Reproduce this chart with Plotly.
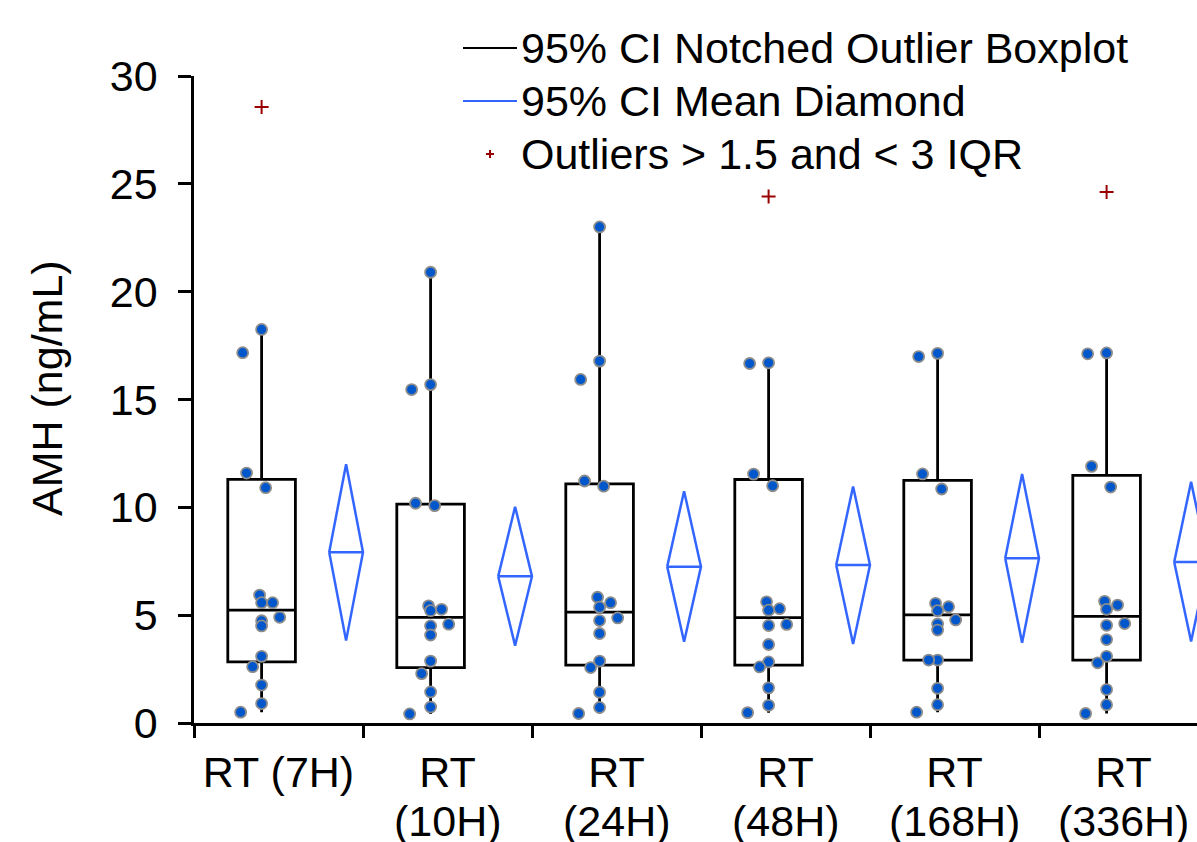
import plotly.graph_objects as go

# ---------------- data ----------------
categories = ["RT (7H)", "RT (10H)", "RT (24H)", "RT (48H)", "RT (168H)", "RT (336H)"]
y_title = "AMH (ng/mL)"
y_ticks = [0, 5, 10, 15, 20, 25, 30]

# individual values per subject (None = not shown as a dot)
g_7h   = [None, 18.25, 17.17, 11.59, 10.91, 5.93, 5.58, 5.58, 4.90, 4.74, 4.50, 3.09, 2.61, 1.76, 0.90, 0.50]
g_10h  = [20.90, 15.69, 15.46, 10.19, 10.08, 5.43, 5.27, 5.21, 4.58, 4.50, 4.08, 2.87, 2.29, 1.44, 0.74, 0.42]
g_24h  = [23.00, 16.78, 15.93, 11.22, 10.98, 5.83, 5.58, 5.37, 4.87, 4.75, 4.15, 2.87, 2.57, 1.43, 0.72, 0.44]
g_48h  = [None, 16.70, 16.67, 11.54, 11.00, 5.62, 5.30, 5.23, 4.57, 4.52, 3.64, 2.83, 2.60, 1.63, 0.82, 0.48]
g_168h = [None, 17.14, 16.99, 11.55, 10.85, 5.55, 5.39, 5.21, 4.78, 4.59, 4.31, 2.92, 2.92, 1.61, 0.85, 0.50]
g_336h = [None, 17.16, 17.12, 11.90, 10.94, 5.64, 5.47, 5.27, 4.61, 4.53, 3.87, 3.09, 2.79, 1.55, 0.85, 0.44]
groups = [g_7h, g_10h, g_24h, g_48h, g_168h, g_336h]

outliers = [28.56, None, None, 24.41, None, 24.62]

q1 = [2.83, 2.57, 2.68, 2.68, 2.92, 2.92]
median = [5.23, 4.90, 5.14, 4.89, 5.01, 4.94]
q3 = [11.30, 10.15, 11.09, 11.29, 11.25, 11.48]
whisker_lo = [0.50, 0.42, 0.44, 0.48, 0.50, 0.44]
whisker_hi = [18.25, 20.90, 23.00, 16.70, 17.14, 17.16]

mean = [7.92, 6.80, 7.25, 7.33, 7.64, 7.47]
ci_lo = [3.82, 3.59, 3.77, 3.66, 3.72, 3.78]
ci_hi = [12.00, 10.03, 10.75, 10.97, 11.55, 11.18]

# horizontal jitter of each subject's dot (category units)
jitter = [0, 0, -0.112, -0.089, 0.024, -0.012, 0.065, 0, 0.107, 0, 0, 0, -0.053, 0, 0, -0.124]

# ---------------- layout constants ----------------
FONT = "Arial, 'Liberation Sans', sans-serif"
FS = 43
BOX_OFF = 0.40
BOX_W = 0.40
DIA_OFF = 0.90
DIA_HW = 0.10
n = len(categories)

# wrap long category names onto two lines
line1, line2 = [], []
for c in categories:
    if len(c) > 7:
        a, b = c.split(" ", 1)
        line1.append(a)
        line2.append(b)
    else:
        line1.append(c)
        line2.append("")

fig = go.Figure()

# boxes
fig.add_trace(go.Box(
    x=[i + BOX_OFF for i in range(n)],
    q1=q1, median=median, q3=q3,
    lowerfence=whisker_lo, upperfence=whisker_hi,
    width=BOX_W, whiskerwidth=0,
    boxpoints=False,
    line=dict(color="black", width=2.8),
    fillcolor="rgba(0,0,0,0)",
    showlegend=False, name="Boxplot",
))

# mean diamonds
dx, dy = [], []
for i in range(n):
    c = i + DIA_OFF
    dx += [c - DIA_HW, c, c + DIA_HW, c, c - DIA_HW, None, c - DIA_HW, c + DIA_HW, None]
    dy += [mean[i], ci_hi[i], mean[i], ci_lo[i], mean[i], None, mean[i], mean[i], None]
fig.add_trace(go.Scatter(
    x=dx, y=dy, mode="lines",
    line=dict(color="#3366FF", width=2.5),
    showlegend=False, name="Mean Diamond", hoverinfo="skip",
))

# dots
px_, py_ = [], []
for i, g in enumerate(groups):
    for j, v in enumerate(g):
        if v is not None:
            px_.append(i + BOX_OFF + jitter[j])
            py_.append(v)
fig.add_trace(go.Scatter(
    x=px_, y=py_, mode="markers",
    marker=dict(size=11, color="#0057CC", line=dict(color="#8C8C8C", width=1.8)),
    showlegend=False, name="Values",
))

# outliers
ox = [i + BOX_OFF for i, v in enumerate(outliers) if v is not None]
oy = [v for v in outliers if v is not None]
fig.add_trace(go.Scatter(
    x=ox, y=oy, mode="markers",
    marker=dict(symbol="cross-thin", size=10, line=dict(color="#990000", width=2)),
    showlegend=False, name="Outliers",
))

# pixel -> paper helpers
L, R, T, B = 194, 1197, 76, 723
def pxx(p): return (p - L) / (R - L)
def pxy(p): return (B - p) / (B - T)

legend_rows = [
    ("line", "black", "95% CI Notched Outlier Boxplot", 48),
    ("line", "#3366FF", "95% CI Mean Diamond", 101),
    ("cross", "#990000", "Outliers > 1.5 and < 3 IQR", 154),
]
shapes = []
annotations = []
for kind, col, txt, yy in legend_rows:
    if kind == "line":
        shapes.append(dict(type="line", xref="paper", yref="paper",
                           x0=pxx(463), x1=pxx(517), y0=pxy(yy), y1=pxy(yy),
                           line=dict(color=col, width=2)))
    else:
        shapes.append(dict(type="line", xref="paper", yref="paper",
                           x0=pxx(486), x1=pxx(494), y0=pxy(yy), y1=pxy(yy),
                           line=dict(color=col, width=2)))
        shapes.append(dict(type="line", xref="paper", yref="paper",
                           x0=pxx(490), x1=pxx(490), y0=pxy(yy - 4), y1=pxy(yy + 4),
                           line=dict(color=col, width=2)))
    annotations.append(dict(xref="paper", yref="paper", x=pxx(519), y=pxy(yy),
                            text=txt, showarrow=False, xanchor="left", yanchor="middle",
                            font=dict(family=FONT, size=FS, color="black")))

# second line of wrapped category labels
for i, t in enumerate(line2):
    if t:
        annotations.append(dict(xref="x", yref="paper", x=i + 0.5, y=pxy(821),
                                text=t, showarrow=False, xanchor="center", yanchor="middle",
                                font=dict(family=FONT, size=FS, color="black")))

# y-axis title
annotations.append(dict(xref="paper", yref="paper", x=pxx(47), y=pxy(388),
                        text=y_title, textangle=-90, showarrow=False,
                        xanchor="center", yanchor="middle",
                        font=dict(family=FONT, size=FS, color="black")))

fig.update_layout(
    width=1197, height=842, autosize=False,
    margin=dict(l=L, r=1197 - R, t=T, b=842 - B, pad=0),
    plot_bgcolor="white", paper_bgcolor="white",
    font=dict(family=FONT, size=FS, color="black"),
    shapes=shapes, annotations=annotations,
    showlegend=False,
    xaxis=dict(
        range=[0, (R - L) / 169.0],
        automargin=False,
        showline=True, linecolor="black", linewidth=2.5,
        showgrid=False, zeroline=False,
        tickmode="array", tickvals=[i + 0.5 for i in range(n)], ticktext=line1,
        ticks="outside", ticklen=12, tickcolor="rgba(0,0,0,0)",
        ticklabelstandoff=-2,
        minor=dict(tickmode="array", tickvals=list(range(n + 1)), ticks="outside",
                   ticklen=12, tickwidth=2.5, tickcolor="black", showgrid=False),
        tickfont=dict(family=FONT, size=FS, color="black"),
    ),
    yaxis=dict(
        range=[y_ticks[0], y_ticks[-1]],
        automargin=False,
        showline=True, linecolor="black", linewidth=2.5,
        showgrid=False, zeroline=False,
        tickmode="array", tickvals=y_ticks,
        ticks="outside", ticklen=13, tickwidth=2.5, tickcolor="black",
        ticklabelstandoff=12,
        tickfont=dict(family=FONT, size=FS, color="black"),
    ),
)

fig.write_html("out.html")
